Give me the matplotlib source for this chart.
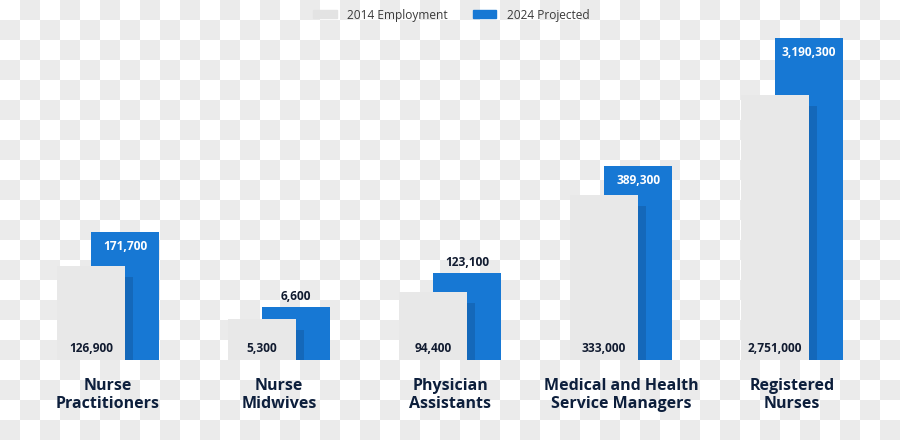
import numpy as np
import matplotlib
matplotlib.use("Agg")
from matplotlib import pyplot as plt
from matplotlib.patches import Patch

plt.rcParams['font.family'] = ['Open Sans', 'DejaVu Sans']

occupations = ['Nurse\nPractitioners', 'Nurse\nMidwives', 'Physician\nAssistants',
               'Medical and Health\nService Managers', 'Registered\nNurses']
employment_2014 = [126900, 5300, 94400, 333000, 2751000]
projected_2024 = [171700, 6600, 123100, 389300, 3190300]

# the original infographic does not draw bars to scale, these are the drawn heights
drawn_2014 = [94, 41, 68, 165, 265]
drawn_2024 = [128, 53, 87, 194, 322]

gray = '#e8e8e8'
blue = '#1778d4'
shade = '#1468ba'
navy = '#111b30'

fig = plt.figure(figsize=(9, 4.4), dpi=100)
fig.patch.set_facecolor('white')

# checkered backdrop like the source image
rows, cols = np.indices((440, 900))
board = np.where(((rows // 20) + (cols // 20)) % 2 == 0, 1.0, 0.922)
fig.figimage(np.dstack([board, board, board]), xo=0, yo=0, origin='upper', zorder=0)

ax = fig.add_axes([0.025, 80 / 440, 0.95, 340 / 440])
ax.set_zorder(2)
ax.patch.set_visible(False)
ax.set_xlim(-0.5, 4.5)
ax.set_ylim(0, 340)
ax.axis('off')

x = np.arange(len(occupations))
w = 0.4
off = 0.1

ax.bar(x + off, drawn_2024, width=w, color=blue, zorder=1)
shadow = [h - 11 for h in drawn_2014]
ax.bar(x - off + w / 2, shadow, width=0.047, align='edge', color=shade, zorder=2)
ax.bar(x - off, drawn_2014, width=w, color=gray, zorder=3)

for i in range(len(x)):
    ax.text(x[i] - off, 12, f'{employment_2014[i]:,}', ha='center', va='center',
            fontsize=8.6, fontweight='bold', color=navy, zorder=4)
    if drawn_2024[i] > 100:
        ax.text(x[i] + off, drawn_2024[i] - 15, f'{projected_2024[i]:,}', ha='center',
                va='center', fontsize=8.6, fontweight='bold', color='white', zorder=4)
    else:
        ax.text(x[i] + off, drawn_2024[i] + 10, f'{projected_2024[i]:,}', ha='center',
                va='center', fontsize=8.6, fontweight='bold', color=navy, zorder=4)
    ax.text(x[i], -35, occupations[i], ha='center', va='center', fontsize=11.5,
            fontweight='bold', color='#0d1f3c', linespacing=1.22, clip_on=False)

handles = [Patch(color='#e3e3e3', label='2014 Employment'),
           Patch(color=blue, label='2024 Projected')]
leg = fig.legend(handles=handles, loc='center', bbox_to_anchor=(451 / 900, 1 - 15 / 440),
                 ncol=2, frameon=False, fontsize=8.6, handlelength=2.0, handleheight=0.7,
                 handletextpad=0.85, columnspacing=2.1, labelcolor='#3a3a3a')
leg.set_zorder(3)

fig.savefig('out.png', dpi=100)
